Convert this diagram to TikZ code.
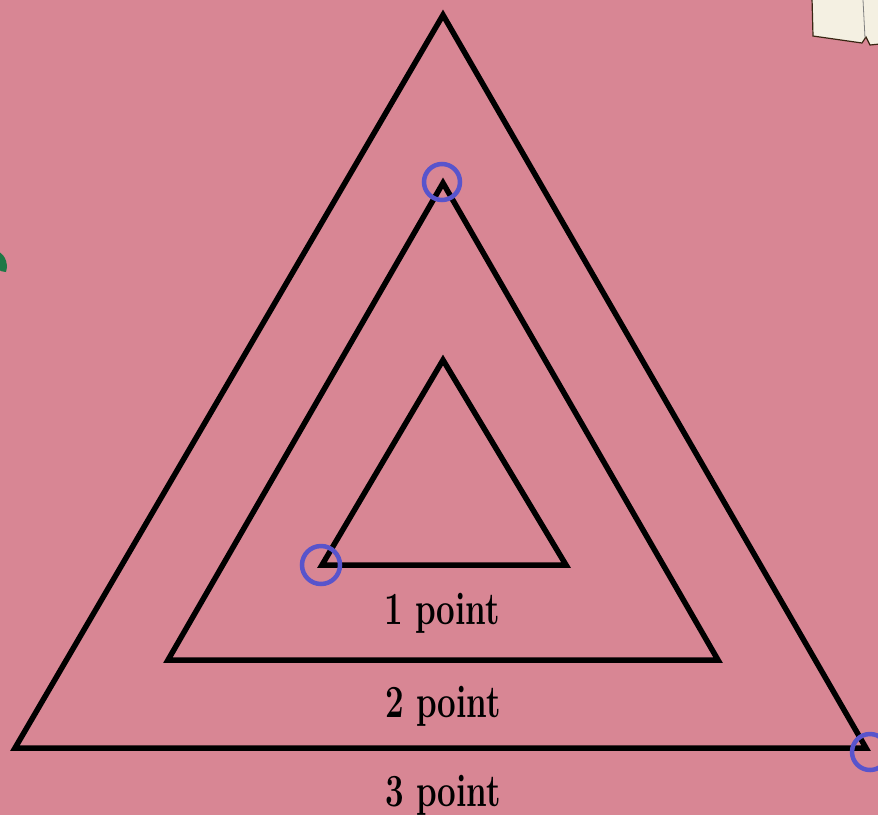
\documentclass[tikz,border=0pt]{standalone}
\usepackage{fontspec}
\definecolor{bgpink}{RGB}{216,134,148}
\definecolor{ringblue}{RGB}{88,84,204}
\definecolor{papercream}{RGB}{244,240,226}
\definecolor{leafgreen}{RGB}{30,120,70}
\begin{document}
\begin{tikzpicture}[x=1pt,y=-1pt,
  tri/.style={draw=black,line width=5.5pt,line join=miter},
  ring/.style={draw=ringblue,line width=4.5pt,fill=none},
  lbl/.style={font=\fontsize{46}{46}\selectfont\bfseries,inner sep=0pt}]
\useasboundingbox (0,0) rectangle (878,815);
\fill[bgpink] (0,0) rectangle (878,815);
% decorations at edges
\fill[papercream,draw=black!70!brown,line width=1.2pt] (812,-2) -- (813,36) -- (862,43) -- (866,37) -- (870,45) -- (880,44) -- (880,-2) -- cycle;
\draw[black!50,line width=0.8pt] (863,0) -- (865,38);
\fill[leafgreen] (-6,250) .. controls (4,252) and (9,262) .. (6,272) .. controls (0,272) and (-6,268) .. (-6,262) -- cycle;
% triangles
\coordinate (oA) at (443,15);
\coordinate (oL) at (15,748);
\coordinate (oR) at (866,748);
\coordinate (mA) at (443,183);
\coordinate (mL) at (168,660);
\coordinate (mR) at (718,660);
\coordinate (iA) at (443,360);
\coordinate (iL) at (322,565);
\coordinate (iR) at (566,565);
\draw[tri] (oA) -- (oL) -- (oR) -- cycle;
\draw[tri] (mA) -- (mL) -- (mR) -- cycle;
\draw[tri] (iA) -- (iL) -- (iR) -- cycle;
% circles
\node[ring,circle,minimum size=36pt] (c1) at (442,182) {};
\node[ring,circle,minimum size=38pt] (c2) at (321,565) {};
\node[ring,circle,minimum size=36pt] (c3) at (870,752) {};
% labels
\node[lbl] (l1) at (442,613) {\scalebox{0.72}[1]{1 point}};
\node[lbl] (l2) at (443,706) {\scalebox{0.72}[1]{2 point}};
\node[lbl] (l3) at (443,795) {\scalebox{0.72}[1]{3 point}};
\end{tikzpicture}
\end{document}
